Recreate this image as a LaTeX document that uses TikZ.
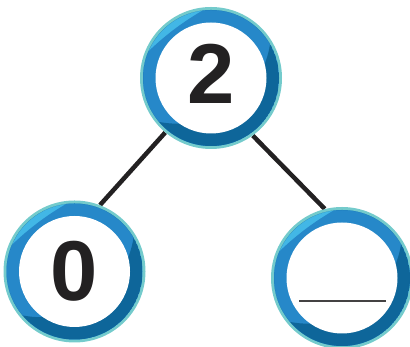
\documentclass[tikz,border=0pt]{standalone}
\usepackage{fontspec}
\usetikzlibrary{backgrounds}
\newfontfamily\digitfont{Liberation Sans}
\definecolor{ringteal}{RGB}{116,203,204}
\definecolor{ringblue}{RGB}{38,136,201}
\definecolor{ringlight}{RGB}{66,183,230}
\definecolor{ringdark}{RGB}{14,102,154}
\definecolor{inkgrey}{RGB}{35,33,34}

\begin{document}
\begin{tikzpicture}[
    x=1pt, y=1pt,
    disc/.style={
        circle,
        minimum size=142pt,
        inner sep=0pt,
        fill=ringteal
    },
    digit/.style={
        text=inkgrey,
        inner sep=0pt,
        font=\digitfont\bfseries\fontsize{85}{85}\selectfont
    },
    link/.style={
        draw=inkgrey,
        line width=4.5pt
    },
    blank/.style={
        draw=inkgrey!85,
        line width=1.2pt
    }
]

\useasboundingbox (0,0) rectangle (410,347);

% ============================================================
% Number bond
% ============================================================

\node[disc] (total) at (211,269) {};
\node[disc] (partone) at (74.5,75.5) {};
\node[disc] (parttwo) at (342,69) {};

\begin{scope}[on background layer]
\draw[link] (total.230) -- (partone.69);
\draw[link] (total.-54) -- (parttwo.104);
\end{scope}

% rings: light sweep top left, dark sweep bottom right
\foreach \n in {total,partone,parttwo} {
    \begin{scope}[shift={(\n.center)}]
        \clip (0,0) circle (68pt);
        \fill[ringlight] (0,0) circle (68pt);
        \fill[ringblue] (-53:215pt) circle (276pt);
        \fill[ringdark, even odd rule] (0,0) circle (68pt) (125:59pt) circle (94pt);
        \fill[white] (0,0) circle (55.5pt);
    \end{scope}
}

\node[digit] (totalnum) at ([yshift=4]total.center) {2};
\node[digit] (partonenum) at (partone.center) {0};

% answer line
\draw[blank] ([shift={(-43,-23)}]parttwo.center) -- ([shift={(44,-23)}]parttwo.center);

\end{tikzpicture}
\end{document}
